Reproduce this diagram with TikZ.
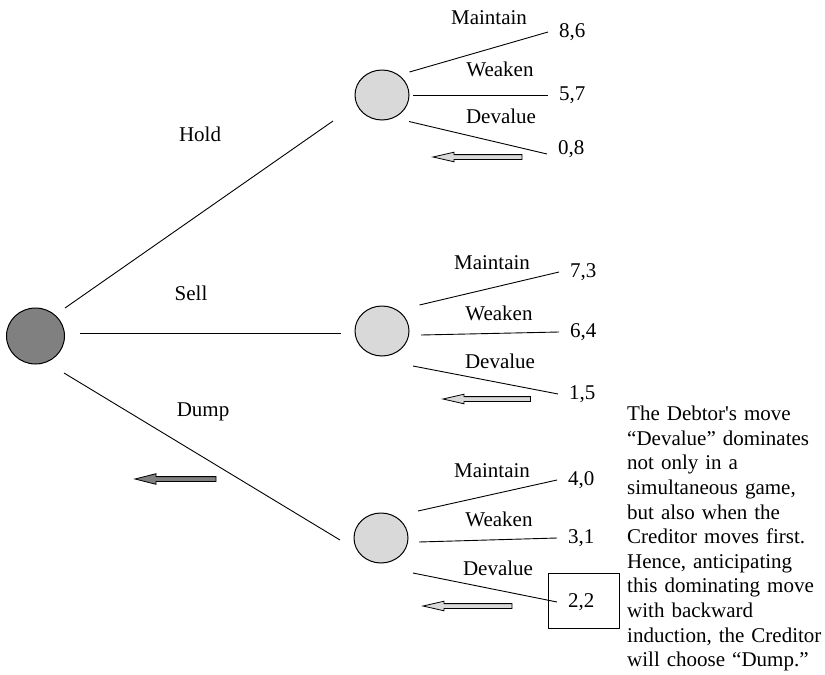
\documentclass[tikz,border=0pt]{standalone}
\usepackage{fontspec}
\setmainfont{Liberation Serif}
\usetikzlibrary{shapes.geometric}
\definecolor{nodegray}{HTML}{D9D9D9}
\definecolor{rootgray}{HTML}{808080}
\newcommand\blockarrow[5]{% #1 right x, #2 tip x, #3 y, #4 fill, #5 head half height
  \draw[line width=0.8pt, fill=#4] (#1,#3-2.4) -- (#2+21,#3-2.4) -- (#2+21,#3-#5) -- (#2,#3)
    -- (#2+21,#3+#5) -- (#2+21,#3+2.4) -- (#1,#3+2.4) -- cycle;}
\begin{document}
\begin{tikzpicture}[x=1pt, y=-1pt, font=\fontsize{21}{25}\selectfont,
  chance/.style={ellipse, draw, line width=1pt, fill=nodegray, minimum width=54pt, minimum height=50pt, inner sep=0pt},
  rootnode/.style={chance, fill=rootgray, minimum width=58pt, minimum height=56pt},
  lbl/.style={anchor=base, inner sep=0pt},
  pay/.style={anchor=west, inner xsep=11pt, inner ysep=0pt, text height=14pt, text depth=3pt},
  branch/.style={line width=0.9pt}]
\useasboundingbox (0,0) rectangle (825,675);

% decision nodes
\node[rootnode] (r) at (35.5,336) {};
\node[chance] (u) at (382,95) {};
\node[chance] (m) at (382,331) {};
\node[chance] (b) at (381,538) {};

% first-move labels
\node[lbl] (lhold) at (200,141) {Hold};
\node[lbl] (lsell) at (191,300) {Sell};
\node[lbl] (ldump) at (203,416) {Dump};

% first-move branches
\draw[branch] ([shift={(29.5,-28)}]r.center) -- ([shift={(-49,26)}]u.center);
\draw[branch] ([shift={(44.5,-3)}]r.center) -- ([shift={(-41,2)}]m.center);
\draw[branch] ([shift={(28.5,37)}]r.center) -- ([shift={(-41,2)}]b.center);

% payoffs
\node[pay] (p86) at (548,32) {8,6};
\node[pay] (p57) at (548,95) {5,7};
\node[pay] (p08) at (547,149) {0,8};
\node[pay] (p73) at (559,272) {7,3};
\node[pay] (p64) at (559,332) {6,4};
\node[pay] (p15) at (558,394) {1,5};
\node[pay] (p40) at (557,480) {4,0};
\node[pay] (p31) at (557,538) {3,1};
\node[pay] (p22) at (557,602) {2,2};
\node[draw, line width=0.9pt, minimum width=71pt, minimum height=55pt, inner sep=0pt] (box22) at (583.5,600.5) {};

% second-move labels
\node[lbl] (um) at (489,24) {Maintain};
\node[lbl] (uw) at (500,76) {Weaken};
\node[lbl] (ud) at (501,123) {Devalue};
\node[lbl] (mm) at (492,269) {Maintain};
\node[lbl] (mw) at (499,320) {Weaken};
\node[lbl] (md) at (500,368) {Devalue};
\node[lbl] (bm) at (492,477) {Maintain};
\node[lbl] (bw) at (499,526) {Weaken};
\node[lbl] (bd) at (498,575) {Devalue};

% second-move branches
\draw[branch] ([shift={(27.5,-23)}]u.center) -- (p86.west);
\draw[branch] ([shift={(31,0)}]u.center) -- (p57.west);
\draw[branch] ([shift={(27,26.5)}]u.center) -- ([yshift=-5pt]p08.west);
\draw[branch] ([shift={(37.5,-26)}]m.center) -- (p73.west);
\draw[branch] ([shift={(39,4)}]m.center) -- (p64.west);
\draw[branch] ([shift={(31,35)}]m.center) -- (p15.west);
\draw[branch] ([shift={(37,-27)}]b.center) -- (p40.west);
\draw[branch] ([shift={(38,4)}]b.center) -- (p31.west);
\draw[branch] ([shift={(32,35)}]b.center) -- (p22.west);

% block arrows
\blockarrow{522}{433}{157}{nodegray}{4.8}
\blockarrow{530.5}{443}{399}{nodegray}{4.8}
\blockarrow{512}{423}{606}{nodegray}{4.8}
\blockarrow{216}{135}{479}{rootgray}{5.3}

% note
\node[anchor=north west, align=left, text width=198pt, inner sep=0pt] (note) at (627,406)
 {\fontsize{21}{24.6}\selectfont
  The Debtor\textquotesingle s move\\
  “Devalue” dominates\\
  not only in a\\
  simultaneous game,\\
  but also when the\\
  Creditor moves first.\\
  Hence, anticipating\\
  this dominating move\\
  with backward\\
  induction, the Creditor\\
  will choose “Dump.”\par};
\end{tikzpicture}
\end{document}
